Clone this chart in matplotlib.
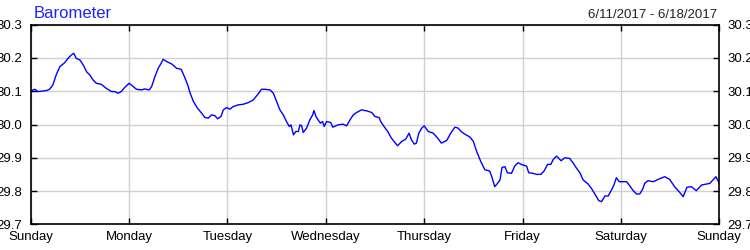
import matplotlib
matplotlib.use('Agg')
import matplotlib.pyplot as plt

plt.rcParams['font.family'] = ['Liberation Sans', 'DejaVu Sans']

# hours since Sunday 00:00 and barometric pressure (inHg)
hours = [0.0, 1.0, 1.8, 3.8, 4.6, 5.4, 6.2, 7.1, 8.3, 9.1, 9.9, 10.5, 11.1, 12.0,
         12.8, 13.6, 14.4, 15.2, 16.0, 17.2, 18.4, 19.7, 20.5, 21.3, 22.1, 22.9,
         24.0, 25.0, 25.8, 27.0, 27.8, 28.9, 29.5, 30.3, 31.1, 31.8, 32.3, 33.2,
         34.4, 35.6, 36.7, 37.5, 38.3, 38.9, 39.7, 40.7, 41.7, 42.5, 43.3, 44.1,
         45.0, 45.6, 46.4, 47.0, 47.8, 48.6, 49.4, 50.6, 51.9, 53.1, 54.3, 55.5,
         56.3, 57.0, 58.4, 59.2, 60.0, 60.8, 61.6, 62.4, 63.1, 63.5, 64.1, 64.7,
         65.3, 65.7, 66.1, 66.5, 67.3, 68.1, 68.8, 69.1, 69.6, 70.1, 70.7, 71.2,
         71.6, 72.2, 73.2, 73.7, 75.0, 76.2, 77.1, 77.9, 78.7, 79.5, 80.7, 82.0,
         83.2, 84.0, 85.0, 85.4, 86.2, 87.1, 88.0, 89.0, 89.5, 90.5, 91.5, 92.3,
         92.9, 93.6, 94.1, 94.7, 95.4, 96.0, 97.0, 98.2, 99.3, 100.2, 101.5, 102.5,
         103.5, 104.3, 105.0, 105.9, 107.2, 108.0, 108.8, 109.8, 110.8, 112.0,
         112.6, 113.2, 113.9, 114.5, 115.0, 115.7, 116.3, 117.3, 118.1, 118.9,
         120.1, 121.0, 121.5, 122.6, 123.4, 124.5, 125.3, 126.1, 126.9, 127.5,
         128.3, 129.4, 130.3, 131.5, 132.3, 133.2, 134.0, 134.8, 136.0, 136.8,
         137.8, 138.6, 139.3, 140.1, 140.9, 141.7, 142.3, 142.9, 143.6, 144.4,
         145.4, 146.2, 147.0, 147.8, 148.6, 149.3, 149.8, 150.6, 151.9, 153.1,
         154.7, 155.9, 157.1, 158.4, 159.2, 160.1, 161.2, 162.4, 163.7, 165.7,
         167.2, 168.0]
pressure = [30.101, 30.106, 30.099, 30.102, 30.106, 30.119, 30.149, 30.174, 30.186,
            30.199, 30.209, 30.214, 30.199, 30.194, 30.179, 30.159, 30.149, 30.134,
            30.124, 30.121, 30.109, 30.099, 30.099, 30.094, 30.099, 30.111, 30.124,
            30.114, 30.106, 30.104, 30.107, 30.104, 30.114, 30.144, 30.169, 30.184,
            30.196, 30.189, 30.182, 30.169, 30.166, 30.144, 30.119, 30.094, 30.069,
            30.049, 30.034, 30.021, 30.019, 30.029, 30.026, 30.017, 30.024, 30.044,
            30.051, 30.046, 30.054, 30.059, 30.061, 30.066, 30.074, 30.092, 30.106,
            30.106, 30.104, 30.094, 30.069, 30.044, 30.029, 30.009, 29.994, 29.999,
            29.969, 29.979, 29.979, 29.999, 29.996, 29.976, 29.989, 30.014, 30.029,
            30.042, 30.024, 30.014, 30.004, 30.009, 29.994, 30.009, 30.006, 29.992,
            29.999, 30.001, 29.996, 30.014, 30.029, 30.036, 30.044, 30.041, 30.036,
            30.024, 30.021, 30.009, 29.994, 29.979, 29.959, 29.944, 29.936, 29.949,
            29.956, 29.974, 29.954, 29.941, 29.944, 29.974, 29.989, 29.996, 29.979,
            29.974, 29.959, 29.944, 29.952, 29.974, 29.992, 29.989, 29.979, 29.971,
            29.962, 29.949, 29.919, 29.889, 29.864, 29.860, 29.839, 29.813, 29.823,
            29.833, 29.871, 29.873, 29.855, 29.853, 29.875, 29.885, 29.878, 29.875,
            29.855, 29.853, 29.850, 29.850, 29.861, 29.880, 29.880, 29.895, 29.905,
            29.891, 29.900, 29.898, 29.885, 29.868, 29.855, 29.833, 29.821, 29.808,
            29.788, 29.771, 29.768, 29.785, 29.785, 29.803, 29.818, 29.840, 29.828,
            29.828, 29.828, 29.815, 29.801, 29.791, 29.791, 29.805, 29.823, 29.831,
            29.828, 29.835, 29.843, 29.835, 29.813, 29.795, 29.783, 29.811, 29.813,
            29.801, 29.818, 29.823, 29.843, 29.823]

day_labels = ['Sunday', 'Monday', 'Tuesday', 'Wednesday', 'Thursday',
              'Friday', 'Saturday', 'Sunday']
y_ticks = [29.7, 29.8, 29.9, 30.0, 30.1, 30.2, 30.3]

fig = plt.figure(figsize=(7.5, 2.5), dpi=100)
ax = fig.add_axes([0.041, 0.103, 0.918, 0.798])

ax.plot(hours, pressure, color='#0000ff', linewidth=1.0)

ax.set_xlim(0, 168)
ax.set_ylim(29.7, 30.3)
ax.set_xticks([24 * i for i in range(len(day_labels))])
ax.set_xticklabels(day_labels)
ax.set_yticks(y_ticks)
ax.set_yticklabels(['%.1f' % v for v in y_ticks])

ax.grid(True, color='#d0d0d0', linewidth=1.0)
ax.set_axisbelow(True)
ax.tick_params(direction='in', length=4, width=1, labelsize=9.5,
               top=True, right=True, labelright=True, pad=6)
ax.tick_params(axis='x', pad=5)
for s in ax.spines.values():
    s.set_linewidth(1.2)
    s.set_color('black')

fig.text(0.045, 0.93, 'Barometer', color='#2020ff', fontsize=12, ha='left', va='baseline')
fig.text(0.956, 0.93, '6/11/2017 - 6/18/2017', color='#222222', fontsize=9.5,
         ha='right', va='baseline')

plt.savefig('out.png', dpi=100)
